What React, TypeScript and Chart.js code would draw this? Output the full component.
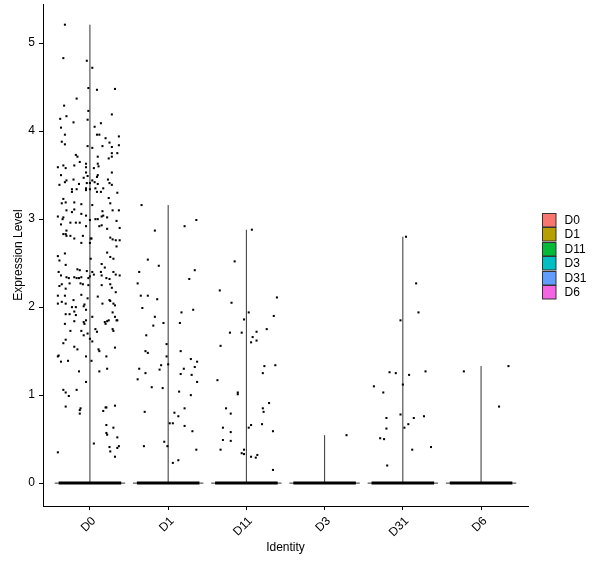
import { useEffect, useRef } from "react";
import { Chart, registerables } from "chart.js";

Chart.register(...registerables);

const identities = ["D0", "D1", "D11", "D3", "D31", "D6"];
const identityColors = ["#F8766D", "#B79F00", "#00BA38", "#00BFC4", "#619CFF", "#F564E3"];
const yTicks = [0, 1, 2, 3, 4, 5];

// non-zero cells: [expression, jitter offset]
const d0Cells: [number, number][] = [
  [5.21, -0.32], [4.83, -0.34], [4.8, -0.04], [4.72, 0.03], [4.49, -0.02], [4.47, 0.09], [4.48, 0.32], [4.37, -0.17],
  [4.29, -0.33], [4.23, -0.02], [4.19, 0.28], [4.17, -0.3], [4.14, -0.38], [4.13, -0.03], [4.1, -0.21], [4.09, 0.14],
  [4.04, -0.37], [4.05, 0.06], [3.96, 0.09], [3.96, 0.12], [3.96, -0.32], [3.94, 0.37], [3.92, 0.2], [3.88, -0.36],
  [3.87, 0.25], [3.85, -0.32], [3.83, -0.03], [3.83, 0.16], [3.84, 0.37], [3.81, 0.03], [3.82, 0.28], [3.75, 0.28],
  [3.75, 0.35], [3.73, -0.18], [3.71, -0.16], [3.71, 0.1], [3.71, 0.28], [3.69, 0.24], [3.65, -0.13], [3.63, -0.05],
  [3.63, 0.1], [3.59, -0.41], [3.61, -0.34], [3.58, -0.31], [3.61, -0.2], [3.59, -0.05], [3.58, 0.05], [3.6, 0.11],
  [3.53, -0.05], [3.5, -0.37], [3.49, -0.03], [3.5, 0.1], [3.48, 0.09], [3.53, 0.28], [3.47, -0.08], [3.45, -0.21],
  [3.44, -0.3], [3.42, -0.32], [3.44, 0.03], [3.42, 0.06], [3.41, -0.04], [3.41, 0.0], [3.4, 0.1], [3.45, 0.23],
  [3.41, 0.25], [3.39, 0.28], [3.39, -0.39], [3.4, -0.14], [3.35, -0.05], [3.33, -0.05], [3.34, 0.0], [3.34, -0.23],
  [3.31, -0.23], [3.34, -0.17], [3.35, 0.07], [3.31, 0.09], [3.31, 0.14], [3.35, 0.17], [3.3, 0.35],
  [3.23, -0.34], [3.19, -0.31], [3.18, -0.36], [3.19, -0.2], [3.17, -0.11], [3.16, 0.03], [3.18, 0.26], [3.24, 0.24],
  [3.1, -0.3], [3.08, -0.23], [3.11, -0.2], [3.09, 0.16], [3.1, 0.29], [3.1, 0.37], [3.06, -0.11], [3.04, -0.05],
  [3.03, -0.41], [3.02, -0.34], [3.0, -0.35], [3.03, 0.15], [3.04, 0.17], [3.02, 0.22], [2.99, 0.0], [3.0, 0.07],
  [3.0, 0.1], [2.96, -0.25], [2.96, -0.18], [2.96, -0.13], [2.98, 0.34], [2.94, -0.37], [2.92, 0.12], [2.93, 0.15],
  [2.92, -0.05], [2.89, 0.22], [2.9, 0.38],
  [2.87, -0.3], [2.83, -0.34], [2.83, -0.31], [2.81, -0.3], [2.81, -0.25], [2.78, -0.2], [2.81, -0.09], [2.78, 0.01],
  [2.78, 0.02], [2.79, 0.26], [2.77, 0.29], [2.76, 0.33], [2.76, 0.38], [2.73, -0.11], [2.73, 0.0], [2.69, 0.34],
  [2.62, 0.22], [2.61, -0.32], [2.58, -0.41], [2.53, -0.39], [2.55, 0.01], [2.57, 0.26], [2.55, 0.3], [2.48, -0.31],
  [2.49, 0.15], [2.45, 0.19],
  [2.43, -0.16], [2.42, -0.13], [2.41, -0.04], [2.4, 0.03], [2.37, 0.05], [2.4, -0.4], [2.36, -0.37], [2.4, 0.14],
  [2.36, 0.15], [2.4, 0.3], [2.37, 0.33], [2.36, 0.38], [2.34, -0.3], [2.33, -0.27], [2.34, -0.2], [2.33, -0.17],
  [2.33, -0.14], [2.34, -0.11], [2.33, -0.02], [2.35, 0.0], [2.33, 0.21], [2.32, 0.25],
  [2.26, -0.36], [2.24, -0.39], [2.27, -0.26], [2.27, -0.12], [2.26, -0.09], [2.25, -0.02], [2.25, 0.15], [2.26, 0.26],
  [2.22, 0.28], [2.21, -0.31], [2.17, 0.33], [2.13, -0.41], [2.13, -0.32], [2.14, -0.11], [2.12, 0.1], [2.08, 0.25],
  [2.07, 0.26], [2.04, -0.41], [2.06, -0.36], [2.04, -0.31], [2.08, -0.21], [2.03, -0.07], [2.1, -0.03], [2.04, 0.3],
  [2.02, 0.32], [2.0, -0.23], [2.0, -0.18], [2.01, -0.08], [2.04, 0.16],
  [1.92, -0.31], [1.92, -0.26], [1.95, -0.2], [1.91, -0.18], [1.97, -0.05], [1.89, 0.03], [1.94, 0.29], [1.89, 0.32],
  [1.85, 0.34], [1.81, -0.32], [1.84, -0.2], [1.83, -0.08], [1.81, -0.07], [1.85, -0.05], [1.83, 0.19], [1.81, 0.2],
  [1.84, 0.22], [1.85, 0.24], [1.85, 0.35],
  [1.73, -0.25], [1.73, -0.11], [1.68, -0.08], [1.7, -0.03], [1.64, 0.0], [1.75, 0.07], [1.72, 0.09], [1.73, 0.3],
  [1.75, 0.29], [1.63, -0.31], [1.59, -0.34], [1.61, 0.03], [1.55, -0.2], [1.52, -0.16], [1.52, 0.11], [1.5, 0.12],
  [1.54, 0.32], [1.44, -0.41], [1.45, -0.4], [1.38, -0.37], [1.39, -0.28], [1.44, -0.05], [1.39, 0.02], [1.44, 0.21],
  [1.3, 0.22], [1.27, 0.12], [1.27, -0.14], [1.15, -0.05], [1.06, -0.34], [1.03, -0.31], [0.99, -0.27], [1.06, -0.17],
  [0.87, -0.31], [0.83, -0.13], [0.85, -0.12], [0.79, -0.13], [0.82, 0.17], [0.86, 0.2], [0.86, 0.21], [0.88, 0.32],
  [0.66, 0.21], [0.63, 0.3], [0.57, 0.21], [0.55, 0.22], [0.52, 0.35], [0.45, 0.05], [0.41, 0.25], [0.42, 0.37],
  [0.4, 0.35], [0.36, 0.26], [0.3, 0.32], [0.35, -0.41],
];

const d1Cells: [number, number][] = [
  [3.16, -0.34], [2.99, 0.36], [2.92, 0.21], [2.87, -0.17], [2.54, -0.26], [2.47, -0.12], [2.42, 0.34], [2.4, -0.37],
  [2.32, 0.27], [2.27, -0.39], [2.13, -0.35], [2.13, -0.26], [2.09, -0.14], [1.99, -0.33], [1.94, 0.17], [1.97, 0.32],
  [1.89, -0.17], [1.82, -0.06], [1.82, 0.15], [1.79, -0.19], [1.68, -0.28], [1.58, -0.02], [1.5, -0.29], [1.48, -0.26],
  [1.5, 0.16], [1.44, -0.02], [1.41, 0.29], [1.38, 0.37], [1.34, -0.09], [1.35, 0.0], [1.32, 0.34], [1.3, -0.37],
  [1.29, -0.11], [1.3, 0.2], [1.25, -0.29], [1.24, 0.16], [1.23, 0.3], [1.18, -0.39], [1.15, 0.37], [1.09, -0.21],
  [1.08, -0.07], [1.04, 0.14], [1.0, 0.29], [0.85, 0.21], [0.81, -0.3], [0.8, 0.08], [0.76, 0.13], [0.68, 0.02],
  [0.68, 0.06], [0.65, 0.21], [0.59, 0.31], [0.47, -0.05], [0.42, -0.31], [0.42, -0.01], [0.38, 0.36], [0.26, 0.13],
  [0.23, 0.06],
];

const d11Cells: [number, number][] = [
  [2.88, 0.07], [2.52, -0.15], [2.19, -0.34], [2.11, 0.39], [2.05, -0.19], [1.94, 0.03], [1.9, 0.35], [1.86, -0.03],
  [1.75, 0.26], [1.72, 0.13], [1.71, -0.21], [1.71, -0.06], [1.66, 0.08], [1.6, 0.06], [1.62, 0.13], [1.56, -0.33],
  [1.33, 0.23], [1.34, 0.37], [1.25, 0.21], [1.17, -0.37], [1.03, -0.11], [1.01, -0.11], [0.91, 0.29], [0.85, -0.26],
  [0.85, 0.21], [0.81, 0.22], [0.79, -0.2], [0.67, 0.2], [0.66, 0.06], [0.63, 0.03], [0.63, -0.3], [0.58, -0.2],
  [0.59, 0.34], [0.49, -0.3], [0.48, -0.2], [0.38, -0.33], [0.38, -0.03], [0.34, -0.06], [0.33, -0.03], [0.32, 0.14],
  [0.3, 0.06], [0.29, 0.12], [0.15, 0.34],
];

const d3Cells: [number, number][] = [[0.545, 0.28]];

const d31Cells: [number, number][] = [
  [2.8, 0.04], [2.27, 0.17], [1.94, 0.2], [1.85, -0.03], [1.26, -0.17], [1.25, -0.09], [1.27, 0.29], [1.23, 0.08],
  [1.1, -0.37], [1.12, 0.0], [1.03, -0.25], [0.74, -0.21], [0.78, -0.03], [0.74, 0.14], [0.76, 0.27], [0.67, 0.07],
  [0.62, -0.21], [0.63, 0.02], [0.51, -0.29], [0.5, -0.24], [0.41, 0.36], [0.38, 0.12], [0.2, -0.2],
];

const d6Cells: [number, number][] = [[1.33, 0.35], [1.27, -0.22], [0.87, 0.23]];

const cellsByIdentity = [d0Cells, d1Cells, d11Cells, d3Cells, d31Cells, d6Cells];
const violinHalfWidth = 0.45;
const zeroJitterHalfWidth = 0.4;

const FONT = "'Liberation Sans', Arial, sans-serif";

const legendPlugin = {
  id: "identityLegend",
  afterDraw(chart: Chart) {
    const { ctx } = chart;
    ctx.save();
    ctx.font = `12px ${FONT}`;
    ctx.textBaseline = "middle";
    ctx.textAlign = "left";
    identities.forEach((name, i) => {
      const y = Math.round(213 + i * 14.4) + 0.5;
      ctx.fillStyle = identityColors[i];
      ctx.fillRect(542.5, y, 13.5, 13.5);
      ctx.strokeStyle = "#333";
      ctx.lineWidth = 1;
      ctx.strokeRect(542.5, y, 13.5, 13.5);
      ctx.fillStyle = "#000";
      ctx.fillText(name, 564.5, y + 7);
    });
    ctx.restore();
  },
};

const App = () => {
  const canvasRef = useRef<HTMLCanvasElement | null>(null);

  useEffect(() => {
    if (!canvasRef.current) return;
    document.body.style.margin = "0";

    const points = cellsByIdentity.map((cells, i) => ({
      type: "scatter" as const,
      data: cells.map(([expr, jit]) => ({ x: i + jit, y: expr })),
      pointStyle: "rect" as const,
      pointRadius: 1.45,
      pointBorderWidth: 0,
      backgroundColor: "#000",
      borderColor: "#000",
      order: 0,
    }));

    const zeroBands = identities.map((_, i) => ({
      type: "line" as const,
      data: [
        { x: i - zeroJitterHalfWidth, y: 0 },
        { x: i + zeroJitterHalfWidth, y: 0 },
      ],
      borderColor: "#000",
      borderWidth: 3,
      borderCapStyle: "butt" as const,
      pointRadius: 0,
      order: 1,
    }));

    const violinBases = identities.map((_, i) => ({
      type: "line" as const,
      data: [
        { x: i - violinHalfWidth, y: 0 },
        { x: i + violinHalfWidth, y: 0 },
      ],
      borderColor: "#333",
      borderWidth: 1,
      pointRadius: 0,
      order: 2,
    }));

    const violinStems = cellsByIdentity.map((cells, i) => ({
      type: "line" as const,
      data: [
        { x: i, y: 0 },
        { x: i, y: Math.max(...cells.map((c) => c[0])) },
      ],
      borderColor: "#333",
      borderWidth: 1,
      pointRadius: 0,
      order: 2,
    }));

    const chart = new Chart(canvasRef.current, {
      type: "scatter",
      data: { datasets: [...points, ...zeroBands, ...violinBases, ...violinStems] as any },
      options: {
        responsive: false,
        animation: false,
        layout: { padding: { top: 3, right: 72, bottom: 0, left: 0 } },
        plugins: { legend: { display: false }, tooltip: { enabled: false } },
        scales: {
          x: {
            type: "linear",
            min: -0.6,
            max: 5.6,
            afterBuildTicks: (s: any) => {
              s.ticks = identities.map((_, i) => ({ value: i }));
            },
            afterFit: (s: any) => {
              s.height = 62;
              s.paddingLeft = 0;
              s.paddingRight = 0;
            },
            ticks: {
              autoSkip: false,
              minRotation: 45,
              maxRotation: 45,
              padding: 4,
              labelOffset: 4,
              color: "#000",
              font: { family: FONT, size: 12 },
              callback: (v: any) => identities[v] ?? "",
            },
            grid: { drawOnChartArea: false, drawTicks: true, tickLength: 4, color: "#000" },
            border: { display: true, color: "#000", width: 1 },
            title: {
              display: true,
              text: "Identity",
              color: "#000",
              font: { family: FONT, size: 12 },
              padding: { top: 0, bottom: 13 },
            },
          },
          y: {
            type: "linear",
            min: -0.26,
            max: 5.445,
            afterBuildTicks: (s: any) => {
              s.ticks = yTicks.map((v) => ({ value: v }));
            },
            afterFit: (s: any) => {
              s.width = 43;
              s.paddingTop = 0;
              s.paddingBottom = 0;
            },
            ticks: {
              padding: 4,
              color: "#000",
              font: { family: FONT, size: 12 },
            },
            grid: { drawOnChartArea: false, drawTicks: true, tickLength: 4, color: "#000" },
            border: { display: true, color: "#000", width: 1 },
            title: {
              display: true,
              text: "Expression Level",
              color: "#000",
              font: { family: FONT, size: 12 },
              padding: { top: 11, bottom: 0 },
            },
          },
        },
      },
      plugins: [legendPlugin],
    });

    return () => {
      chart.destroy();
    };
  }, []);

  return (
    <div style={{ width: 600, height: 568 }}>
      <canvas ref={canvasRef} width={600} height={568} style={{ display: "block" }} />
    </div>
  );
};

export default App;
